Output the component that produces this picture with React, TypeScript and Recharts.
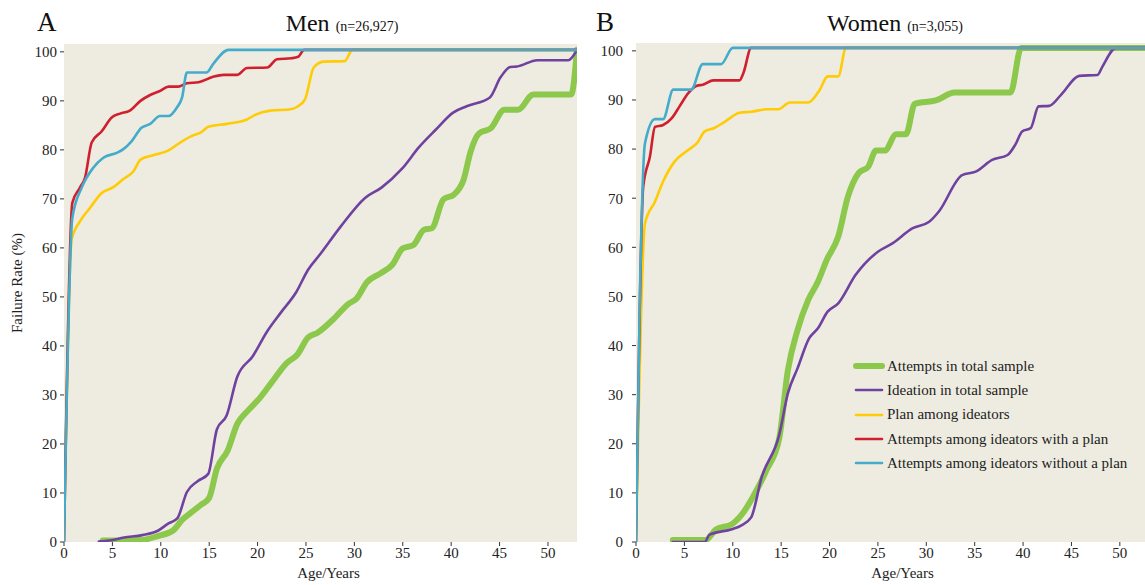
import React from 'react';
import { LineChart, Line, XAxis, YAxis, CartesianGrid, Legend } from 'recharts';

type Pt = [number, number];

const xTicks = [0, 5, 10, 15, 20, 25, 30, 35, 40, 45, 50];
const yTicks = [0, 10, 20, 30, 40, 50, 60, 70, 80, 90, 100];

// Men (n=26,927)
const menAttempts: Pt[] = [
  [4, 0.3], [6, 0.3], [8, 0.4], [9.7, 1.2], [11.3, 2.4], [12.2, 4.5], [13, 5.8], [14.1, 7.5],
  [15, 9], [15.8, 15], [16.9, 18.6], [17.9, 24.1], [19, 26.8], [20.2, 29.3], [21.4, 32.4],
  [23, 36.5], [24.1, 38.2], [25.2, 41.7], [26.2, 42.7], [27.8, 45.4], [29.4, 48.6], [30.2, 49.6],
  [31.3, 53], [32.7, 54.8], [33.9, 56.5], [35, 59.9], [36.1, 60.6], [37.2, 63.7], [38, 64],
  [39.2, 69.9], [40.3, 70.9], [41.3, 74], [42, 79.6], [42.9, 83.4], [44.1, 84.4], [45.5, 88.2],
  [46.9, 88.2], [48.5, 91.3], [52.4, 91.3], [53, 100.4],
];
const menIdeation: Pt[] = [
  [3.6, 0.1], [4.7, 0.3], [6.2, 0.9], [8.1, 1.4], [9.7, 2.3], [10.8, 3.8], [11.7, 4.8], [12.7, 10.2],
  [13.8, 12.4], [14.9, 13.9], [15.8, 23], [16.8, 25.8], [17.9, 33.7], [19.5, 37.9], [21, 43],
  [22.4, 46.8], [24, 51], [25.2, 55.5], [26.5, 58.8], [28.6, 64.4], [31.1, 70.2], [32.8, 72.3],
  [34.9, 76.1], [36.7, 80.6], [38.4, 84.1], [40.2, 87.6], [41.6, 88.9], [44, 90.7], [45.1, 94.8],
  [46.1, 96.9], [46.8, 97], [48.9, 98.3], [52.1, 98.3], [53, 100.4],
];
const menPlan: Pt[] = [
  [0, 0], [0.79, 61.7], [1.65, 65.4], [2.7, 68.2], [3.9, 71.2], [5.1, 72.4], [6.1, 74], [7.2, 75.7],
  [7.9, 78], [9.2, 78.9], [10.8, 79.9], [12, 81.5], [13.4, 83], [14.1, 83.5], [14.9, 84.7],
  [16.8, 85.3], [18.9, 86.2], [19.8, 87.2], [21.3, 88], [23.4, 88.3], [24.1, 88.8], [24.9, 90.3],
  [25.8, 96.8], [26.8, 98], [29, 98.1], [29.8, 100.4], [53, 100.4],
];
const menPlanAttempts: Pt[] = [
  [0, 0], [0.86, 69.2], [1.65, 72.3], [2.17, 74.3], [2.86, 81.5], [3.9, 83.8], [4.93, 86.6],
  [5.8, 87.4], [6.8, 88], [7.9, 90], [8.9, 91.2], [9.9, 92], [10.8, 92.9], [11.8, 92.9],
  [12.7, 93.6], [13.9, 93.8], [15.4, 94.9], [16.5, 95.3], [17.9, 95.3], [18.9, 96.7], [21, 96.8],
  [22, 98.5], [23.5, 98.7], [24.2, 99], [24.8, 100.4], [53, 100.4],
];
const menNoPlanAttempts: Pt[] = [
  [0, 0], [0.86, 66.1], [1.83, 72.3], [3, 76.3], [4.07, 78.4], [5.45, 79.4], [6.1, 80.1], [7, 81.8],
  [8, 84.5], [8.9, 85.3], [9.9, 86.9], [10.8, 86.9], [11.65, 88.6], [12.2, 90.7], [12.7, 95.8],
  [14.75, 95.8], [15.4, 97.5], [17, 100.4], [53, 100.4],
];

// Women (n=3,055)
const womenAttempts: Pt[] = [
  [3.8, 0.4], [7.2, 0.4], [8.3, 2.6], [9.9, 3.6], [10.9, 5.5], [12.1, 9.2], [13.5, 14.7],
  [14.8, 21.1], [15.7, 35], [16.7, 43.2], [17.8, 49.3], [18.8, 53], [19.7, 57.4], [20.9, 62.2],
  [21.9, 70.3], [23, 75.1], [24, 76.4], [24.8, 79.7], [25.7, 79.7], [26.9, 83], [27.9, 83],
  [28.8, 89.2], [31, 89.9], [32.9, 91.5], [38.7, 91.5], [39.8, 100.6], [52.6, 100.6],
];
const womenIdeation: Pt[] = [
  [3.8, 0], [7.1, 0], [7.6, 1.5], [9.9, 2.6], [10.9, 3.4], [11.9, 5], [13, 13.3], [14.8, 21.8],
  [15.7, 30.3], [16.7, 35.4], [17.9, 41.5], [18.8, 43.5], [19.8, 46.9], [20.9, 48.6], [22.7, 54.4],
  [25, 59.1], [26.5, 60.8], [28.6, 63.9], [30.3, 65.2], [31.3, 67.3], [33.7, 74.7], [35.1, 75.4],
  [36.8, 77.8], [38.4, 78.8], [39.2, 80.9], [39.9, 83.6], [40.8, 84.3], [41.6, 88.7], [42.7, 88.8],
  [43.9, 91], [45.8, 94.9], [47.7, 95.1], [48.2, 96.8], [49.6, 100.6], [52.6, 100.6],
];
const womenPlan: Pt[] = [
  [0, 0], [0.93, 64.9], [1.96, 69.3], [2.8, 73.4], [4, 77.5], [5.4, 79.8], [6.3, 81.2], [7.1, 83.6],
  [8.1, 84.3], [9.2, 85.6], [10.7, 87.4], [11.9, 87.6], [13.5, 88.1], [14.7, 88.1], [15.9, 89.5],
  [17.8, 89.5], [19, 92.1], [19.8, 94.8], [20.9, 94.8], [21.7, 100.6], [52.6, 100.6],
];
const womenPlanAttempts: Pt[] = [
  [0, 0], [0.75, 72.4], [1.44, 78.5], [1.96, 84.5], [2.8, 84.9], [3.7, 86.3], [4.5, 88.7],
  [5.4, 91.4], [6.3, 92.9], [6.9, 93.1], [8, 94], [10.7, 94], [11.1, 95.5], [11.9, 100.6],
  [52.6, 100.6],
];
const womenNoPlanAttempts: Pt[] = [
  [0, 0], [0.4, 50], [0.93, 81.2], [1.96, 86.1], [2.8, 86.1], [3.85, 92.1], [5.7, 92.1],
  [6.9, 97.3], [8.8, 97.3], [10, 100.6], [52.6, 100.6],
];

const seriesNames = [
  'Attempts in total sample',
  'Ideation in total sample',
  'Plan among ideators',
  'Attempts among ideators with a plan',
  'Attempts among ideators without a plan',
];
const seriesColors = ['#8cc84b', '#7042a0', '#ffcb05', '#d02030', '#45abcb'];
const seriesWidths = [6, 2.6, 2.6, 2.6, 2.6];

const FONT = '"Liberation Serif", "DejaVu Serif", serif';
const BG = '#eeece1';
const INK = '#222';

const toRows = (pts: Pt[]) => pts.map(([x, y]) => ({ x, y }));

const LegendBox = () => (
  <div style={{ fontFamily: FONT, fontSize: 15, color: INK }}>
    {seriesNames.map((name, i) => (
      <div key={name} style={{ height: 24.3, display: 'flex', alignItems: 'center' }}>
        <svg width={34} height={10}>
          <line x1={3} y1={5} x2={29} y2={5} stroke={seriesColors[i]} strokeWidth={seriesWidths[i]} strokeLinecap="round" />
        </svg>
        <span style={{ whiteSpace: 'nowrap' }}>{name}</span>
      </div>
    ))}
  </div>
);

interface PanelProps {
  series: Pt[][];
  xMax: number;
  width: number;
  top: number;
  right: number;
  yTickMargin: number;
  showYLabel: boolean;
  labelDx: number;
  legend?: boolean;
}

function Panel({ series, xMax, width, top, right, yTickMargin, showYLabel, labelDx, legend }: PanelProps) {
  const tick = { fill: INK, fontSize: 15, fontFamily: FONT };
  return (
    <LineChart width={width} height={585} margin={{ top, right, left: 0, bottom: 0 }}>
      <CartesianGrid fill={BG} stroke="none" horizontal={false} vertical={false} />
      <XAxis
        type="number"
        dataKey="x"
        domain={[0, xMax]}
        ticks={xTicks}
        allowDataOverflow
        axisLine={false}
        tickLine={{ stroke: '#333' }}
        tickSize={4}
        tickMargin={1}
        height={43}
        tick={tick}
        label={{ value: 'Age/Years', position: 'insideBottom', offset: 7, dx: labelDx, fill: INK, fontSize: 15, fontFamily: FONT }}
      />
      <YAxis
        type="number"
        domain={[0, 101.6]}
        ticks={yTicks}
        allowDataOverflow
        axisLine={false}
        tickLine={{ stroke: '#333' }}
        tickSize={4}
        tickMargin={yTickMargin}
        width={64}
        tick={tick}
        label={
          showYLabel
            ? {
                content: () => (
                  <text x={22} y={283} transform="rotate(-90 22 283)" textAnchor="middle" fill={INK} fontSize={15} fontFamily={FONT}>
                    Failure Rate (%)
                  </text>
                ),
              }
            : undefined
        }
      />
      {series.map((pts, i) => (
        <Line
          key={seriesNames[i]}
          data={toRows(pts)}
          dataKey="y"
          name={seriesNames[i]}
          type="monotone"
          stroke={seriesColors[i]}
          strokeWidth={seriesWidths[i]}
          strokeLinecap="round"
          strokeLinejoin="round"
          dot={false}
          activeDot={false}
          isAnimationActive={false}
        />
      ))}
      {legend && (
        <Legend
          layout="vertical"
          align="center"
          verticalAlign="middle"
          content={() => <LegendBox />}
          wrapperStyle={{ left: 281, top: 354, width: 300, height: 125 }}
        />
      )}
    </LineChart>
  );
}

export default function App() {
  return (
    <div style={{ position: 'absolute', left: 0, top: 0, width: 1145, height: 585, background: '#fff', overflow: 'hidden' }}>
      <svg width={1145} height={40} style={{ position: 'absolute', left: 0, top: 0 }}>
        <text x={37} y={31} fontSize={27} fontFamily={FONT} fill="#111">A</text>
        <text x={342} y={31} textAnchor="middle" fontFamily={FONT} fill="#111">
          <tspan fontSize={24}>Men </tspan>
          <tspan fontSize={14}>(n=26,927)</tspan>
        </text>
        <text x={596} y={31} fontSize={27} fontFamily={FONT} fill="#111">B</text>
        <text x={895} y={31} textAnchor="middle" fontFamily={FONT} fill="#111">
          <tspan fontSize={24}>Women </tspan>
          <tspan fontSize={14}>(n=3,055)</tspan>
        </text>
      </svg>
      <div style={{ position: 'absolute', left: 0, top: 0 }}>
        <Panel
          series={[menAttempts, menIdeation, menPlan, menPlanAttempts, menNoPlanAttempts]}
          xMax={53}
          width={580}
          top={44}
          right={3}
          yTickMargin={3}
          showYLabel
          labelDx={8}
        />
      </div>
      <div style={{ position: 'absolute', left: 572, top: 0 }}>
        <Panel
          series={[womenAttempts, womenIdeation, womenPlan, womenPlanAttempts, womenNoPlanAttempts]}
          xMax={52.6}
          width={573}
          top={43}
          right={0}
          yTickMargin={9}
          showYLabel={false}
          labelDx={12}
          legend
        />
      </div>
    </div>
  );
}
